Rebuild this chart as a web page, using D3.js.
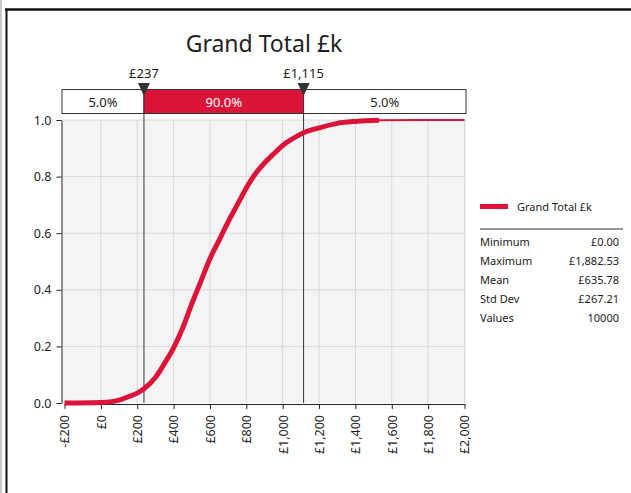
<!DOCTYPE html>
<html>
<head>
<meta charset="utf-8">
<script src="https://cdn.jsdelivr.net/npm/d3@7"></script>
<style>
  body { margin: 0; background: #fff; }
  svg text { font-family: "Noto Sans", "DejaVu Sans", sans-serif; fill: #222; }
</style>
</head>
<body>
<div id="chart-area"></div>
<script>
// cumulative curve (value in £k, cumulative probability)
var cdfValues = [-200, 0, 50, 100, 150, 200, 237, 300, 350, 400, 450, 500, 550, 600, 650, 700, 750, 800, 850, 900, 950, 1000, 1050, 1115, 1200, 1300, 1400, 1530, 1882.53];
var cdfProbs  = [0, 0.002, 0.004, 0.01, 0.022, 0.035, 0.05, 0.09, 0.14, 0.195, 0.265, 0.35, 0.43, 0.51, 0.575, 0.64, 0.70, 0.76, 0.81, 0.848, 0.88, 0.91, 0.932, 0.955, 0.972, 0.988, 0.995, 0.999, 1.0];
var thickEnd = 1530; // beyond this the curve is drawn thin

var xTicks = [-200, 0, 200, 400, 600, 800, 1000, 1200, 1400, 1600, 1800, 2000];
var yTicks = [0, 0.2, 0.4, 0.6, 0.8, 1.0];

var markerValues = [237, 1115];
var markerLabels = ["£237", "£1,115"];
var bandShares = ["5.0%", "90.0%", "5.0%"];

var statLabels = ["Minimum", "Maximum", "Mean", "Std Dev", "Values"];
var statValues = ["£0.00", "£1,882.53", "£635.78", "£267.21", "10000"];

var seriesName = "Grand Total £k";
var red = "#dc1439";

var svg = d3.select("#chart-area")
    .append("svg")
    .attr("width", 631)
    .attr("height", 493);

// window frame
svg.append("line").attr("x1", 1).attr("x2", 1).attr("y1", 0).attr("y2", 493)
    .attr("stroke", "#c8c8c8").attr("stroke-width", 2);
svg.append("line").attr("x1", 5).attr("x2", 631).attr("y1", 9.5).attr("y2", 9.5)
    .attr("stroke", "#111").attr("stroke-width", 2.5);
svg.append("line").attr("x1", 6.5).attr("x2", 6.5).attr("y1", 9).attr("y2", 493)
    .attr("stroke", "#111").attr("stroke-width", 2);

var x = d3.scaleLinear().domain([-200, 2000]).range([64.5, 464.5]);
var y = d3.scaleLinear().domain([0, 1]).range([403, 120]);

// plot background
svg.append("rect")
    .attr("x", 62).attr("y", 120)
    .attr("width", 404).attr("height", 283)
    .attr("fill", "#f4f4f4");

// grid
svg.selectAll(".vgrid").data(xTicks.slice(1)).enter()
    .append("line")
    .attr("x1", function(d){ return x(d); })
    .attr("x2", function(d){ return x(d); })
    .attr("y1", 120).attr("y2", 403)
    .attr("stroke", "#d8d8d8");
svg.selectAll(".hgrid").data(yTicks.slice(1)).enter()
    .append("line")
    .attr("x1", 62).attr("x2", 466)
    .attr("y1", function(d){ return y(d); })
    .attr("y2", function(d){ return y(d); })
    .attr("stroke", "#d8d8d8");

// axes
var fmtMoney = function(v) {
    return (v < 0 ? "-£" : "£") + d3.format(",")(Math.abs(v));
};
var xAxis = svg.append("g")
    .attr("transform", "translate(0,404)")
    .call(d3.axisBottom(x).tickValues(xTicks).tickFormat(fmtMoney).tickSize(5).tickSizeOuter(0));
xAxis.select(".domain").attr("stroke", "#222");
xAxis.selectAll(".tick line").attr("stroke", "#222");
xAxis.selectAll("text")
    .attr("font-size", 12.5)
    .attr("text-anchor", "end")
    .attr("dy", "0.35em")
    .attr("transform", "translate(0,11) rotate(-90)")
    .attr("x", 0).attr("y", 0);

var yAxis = svg.append("g")
    .attr("transform", "translate(61.5,0)")
    .call(d3.axisLeft(y).tickValues(yTicks).tickFormat(d3.format(".1f")).tickSize(5).tickSizeOuter(0));
yAxis.select(".domain").attr("stroke", "#222");
yAxis.selectAll(".tick line").attr("stroke", "#222");
yAxis.selectAll("text").attr("font-size", 12.5).attr("x", -10);

// percentile lines
svg.selectAll(".pline").data(markerValues).enter()
    .append("line")
    .attr("x1", function(d){ return x(d); })
    .attr("x2", function(d){ return x(d); })
    .attr("y1", 89).attr("y2", 403)
    .attr("stroke", "#333");

// the curve
var pts = cdfValues.map(function(v, i){ return [v, cdfProbs[i]]; });
var line = d3.line()
    .curve(d3.curveMonotoneX)
    .x(function(d){ return x(d[0]); })
    .y(function(d){ return y(d[1]); });
svg.append("path")
    .datum(pts.filter(function(d){ return d[0] >= thickEnd; }).concat([[2000, 1]]))
    .attr("d", line)
    .attr("fill", "none")
    .attr("stroke", red)
    .attr("stroke-width", 2);
svg.append("path")
    .datum(pts.filter(function(d){ return d[0] <= thickEnd; }))
    .attr("d", line)
    .attr("fill", "none")
    .attr("stroke", red)
    .attr("stroke-width", 5);

// band above the plot
var edges = [-200].concat(markerValues).concat([2000]);
var bandX = function(v){ return v === -200 ? 62 : (v === 2000 ? 466 : x(v)); };
svg.selectAll(".band").data(bandShares).enter()
    .append("rect")
    .attr("x", function(d, i){ return bandX(edges[i]); })
    .attr("y", 89.5)
    .attr("width", function(d, i){ return bandX(edges[i + 1]) - bandX(edges[i]); })
    .attr("height", 24)
    .attr("fill", function(d, i){ return i === 1 ? red : "#fff"; })
    .attr("stroke", "#333");
svg.selectAll(".bandText").data(bandShares).enter()
    .append("text")
    .attr("x", function(d, i){ return (bandX(edges[i]) + bandX(edges[i + 1])) / 2; })
    .attr("y", 106.5)
    .attr("text-anchor", "middle")
    .attr("font-size", 13)
    .style("fill", function(d, i){ return i === 1 ? "#fff" : "#222"; })
    .text(function(d){ return d; });

// markers
svg.selectAll(".tri").data(markerValues).enter()
    .append("path")
    .attr("d", function(d){
        var cx = x(d);
        return "M" + (cx - 6) + ",83 L" + (cx + 6) + ",83 L" + cx + ",96 Z";
    })
    .attr("fill", "#333");
svg.selectAll(".mlabel").data(markerLabels).enter()
    .append("text")
    .attr("x", function(d, i){ return x(markerValues[i]); })
    .attr("y", 78)
    .attr("text-anchor", "middle")
    .attr("font-size", 13)
    .text(function(d){ return d; });

// title
svg.append("text")
    .attr("x", 264).attr("y", 52)
    .attr("text-anchor", "middle")
    .attr("font-size", 23)
    .text(seriesName);

// legend + stats
svg.append("line")
    .attr("x1", 480).attr("x2", 508)
    .attr("y1", 206.5).attr("y2", 206.5)
    .attr("stroke", red).attr("stroke-width", 5);
svg.append("text")
    .attr("x", 517).attr("y", 211)
    .attr("font-size", 11)
    .text(seriesName);
svg.append("line")
    .attr("x1", 480).attr("x2", 623)
    .attr("y1", 229).attr("y2", 229)
    .attr("stroke", "#777").attr("stroke-width", 1.5);
svg.selectAll(".slabel").data(statLabels).enter()
    .append("text")
    .attr("x", 480)
    .attr("y", function(d, i){ return 246 + i * 19; })
    .attr("font-size", 11)
    .text(function(d){ return d; });
svg.selectAll(".svalue").data(statValues).enter()
    .append("text")
    .attr("x", 619)
    .attr("y", function(d, i){ return 246 + i * 19; })
    .attr("text-anchor", "end")
    .attr("font-size", 11)
    .text(function(d){ return d; });
</script>
</body>
</html>
